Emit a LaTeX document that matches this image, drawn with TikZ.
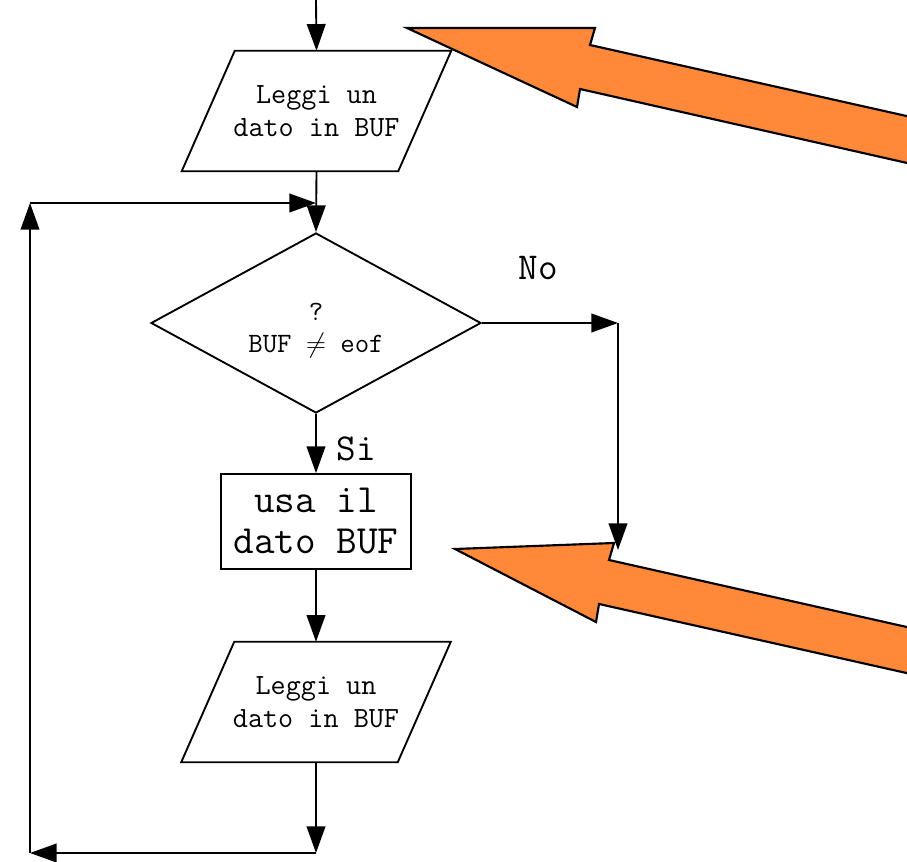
\documentclass[tikz,border=0pt]{standalone}
\usepackage{fontspec}
\usetikzlibrary{arrows.meta,shapes.geometric}
\definecolor{arroworange}{RGB}{255,137,56}

\tikzset{
  io/.style={rectangle, minimum width=162pt, minimum height=90pt,
    inner sep=0pt, align=center, font=\ttfamily\fontsize{22}{24.75}\selectfont},
  ioframe/.style={draw, line width=1.4pt, line join=miter},
  decision/.style={diamond, draw, line width=1.4pt, minimum width=247.5pt,
    minimum height=135pt, inner sep=0pt},
  proc/.style={rectangle, draw, line width=1.4pt, minimum width=142.5pt,
    minimum height=71.25pt, inner sep=0pt, align=center,
    font=\ttfamily\fontsize{30}{30.75}\selectfont},
  smalltext/.style={align=center, font=\ttfamily\fontsize{21}{24}\selectfont},
  branchlabel/.style={font=\ttfamily\fontsize{28.5}{30}\selectfont},
  arr/.style={-{Triangle[length=20pt,width=14pt]}, line width=1.4pt},
  bigarrow/.style={fill=arroworange, draw=black, line width=1.6pt, line join=miter},
}

% slanted input/output frame around a named io node
\newcommand{\drawioframe}[1]{%
  \draw[ioframe] ([xshift=19.9pt]#1.north west) -- ([xshift=19.9pt]#1.north east)
    -- ([xshift=-19.9pt]#1.south east) -- ([xshift=-19.9pt]#1.south west) -- cycle;}

\begin{document}
\begin{tikzpicture}[x=0.75pt,y=-0.75pt]
  \useasboundingbox (0,0) rectangle (907,862);

  % flowchart blocks
  \node[io] (read1) at (316.5,111) {Leggi un\\dato in BUF};
  \drawioframe{read1}
  \node[decision] (test) at (316,323) {};
  \node[smalltext] (testtxt) at (316,331) {?\\BUF $\neq$ eof};
  \node[proc] (use) at (316,521.5) {usa il\\dato BUF};
  \node[io] (read2) at (316,702) {Leggi un\\dato in BUF};
  \drawioframe{read2}

  % branch labels
  \node[branchlabel] (no) at (538,268) {No};
  \node[branchlabel] (si) at (356,449) {Si};

  % connector bends
  \coordinate (start) at (316,0);
  \coordinate (merge) at (316,203);
  \coordinate (loopbr) at (316,853);
  \coordinate (loopbl) at (30,853);
  \coordinate (looptl) at (30,203);
  \coordinate (nocorner) at (618,323);
  \coordinate (noend) at (618,550);

  % main flow
  \draw[arr] (start) -- (read1.north);
  \draw[arr] (read1.south) -- (test.north);
  \draw[arr] (test.south) -- (use.north);
  \draw[arr] (use.south) -- (read2.north);

  % loop back
  \draw[arr] (read2.south) -- (loopbr);
  \draw[arr] (loopbr) -- (loopbl);
  \draw[arr] (loopbl) -- (looptl);
  \draw[arr] (looptl) -- (merge);

  % exit branch
  \draw[arr] (test.east) -- (nocorner);
  \draw[arr] (nocorner) -- (noend);

  % pointing arrows
  \begin{scope}
    \clip (0,0) rectangle (907,862);
    \draw[bigarrow] (407,28) -- (595,28) -- (590,45) -- (1000,137)
      -- (1000,184) -- (580,89) -- (577,107) -- cycle;
    \draw[bigarrow] (455,549) -- (614,543) -- (609,560) -- (1000,648)
      -- (1000,694) -- (599,604) -- (596,622) -- cycle;
  \end{scope}
\end{tikzpicture}
\end{document}
